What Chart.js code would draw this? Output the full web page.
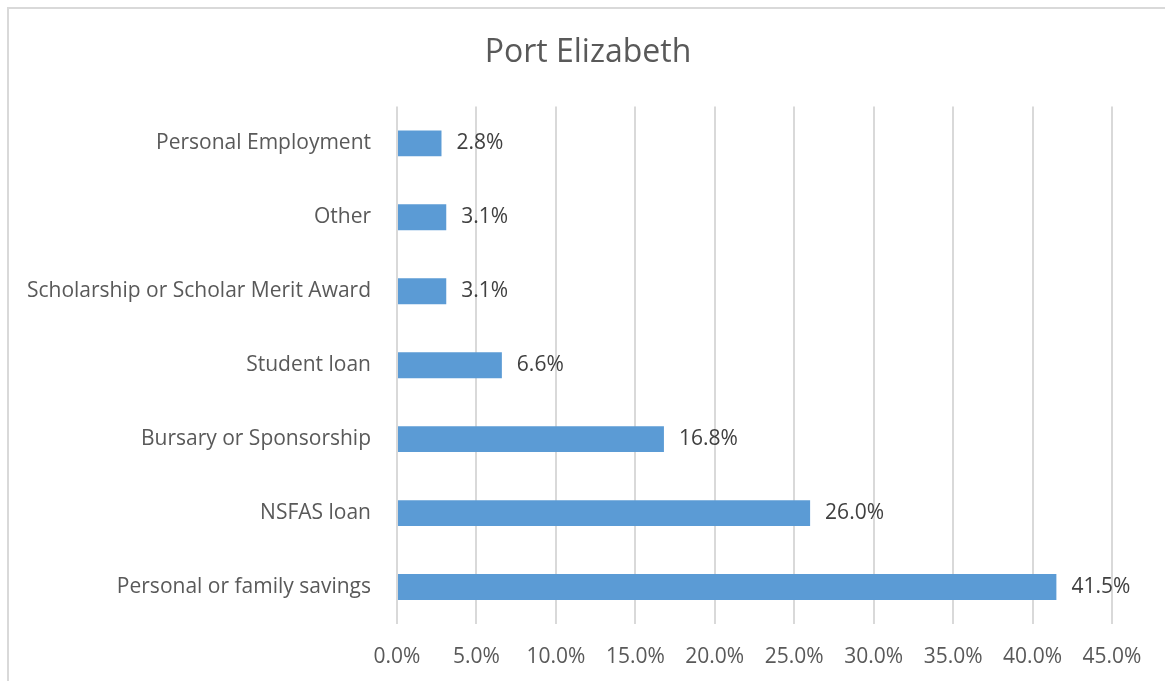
<!DOCTYPE html>
<html>
<head>
<meta charset="utf-8">
<script src="https://cdn.jsdelivr.net/npm/chart.js@4/dist/chart.umd.min.js"></script>
<style>
  html, body { margin: 0; padding: 0; background: #fff; overflow: hidden; }
  #frame { position: absolute; left: 7px; top: 7px; width: 1200px; height: 720px; border: 2px solid #d9d9d9; }
  #wrap { position: absolute; left: 0; top: 0; width: 1165px; height: 681px; }
</style>
</head>
<body>
<div id="frame"></div>
<div id="wrap"><canvas id="chart"></canvas></div>
<script>
// ----------------------------------------------------------------------
const categories = [
    "Personal Employment",
    "Other",
    "Scholarship or Scholar Merit Award",
    "Student loan",
    "Bursary or Sponsorship",
    "NSFAS loan",
    "Personal or family savings"
]
const shares = [2.8, 3.1, 3.1, 6.6, 16.8, 26.0, 41.5]
const axisMax = 45
const axisStep = 5

// ----------------------------------------------------------------------
const FONT = "'Open Sans', Lato, sans-serif"
const GREY = "#595959"

// labels at the end of every bar
const barLabels = {
    id: "barLabels",
    afterDatasetsDraw (chart)
    {
        const ctx = chart.ctx
        const meta = chart.getDatasetMeta(0)
        ctx.save()
        ctx.font = "21px " + FONT
        ctx.fillStyle = "#404040"
        ctx.textBaseline = "middle"
        ctx.textAlign = "left"
        meta.data.forEach((bar, i) => {
            ctx.fillText(shares[i].toFixed(1) + "%", bar.x + 15, bar.y)
        })
        ctx.restore()
    }
}

// centre the title on the whole frame, not just the padded box
const titleCentre = {
    id: "titleCentre",
    afterLayout (chart)
    {
        chart.titleBlock.left = 11
        chart.titleBlock.right = chart.width
    }
}

const config = {
    type: "bar",
    data: {
        labels: categories,
        datasets: [{
            data: shares,
            backgroundColor: "#5b9bd5",
            barPercentage: 0.7,
            categoryPercentage: 0.5
        }]
    },
    options: {
        indexAxis: "y",
        responsive: true,
        maintainAspectRatio: false,
        animation: false,
        layout: { padding: { left: 0, right: 53, top: 0, bottom: 0 } },
        plugins: {
            legend: { display: false },
            tooltip: { enabled: false },
            title: {
                display: true,
                text: "Port Elizabeth",
                color: GREY,
                font: { family: FONT, size: 32, weight: "normal" },
                padding: { top: 34, bottom: 34 }
            }
        },
        scales: {
            x: {
                min: 0,
                max: axisMax,
                grid: { color: "#d9d9d9", lineWidth: 2, drawTicks: false },
                border: { display: false },
                ticks: {
                    stepSize: axisStep,
                    padding: 20,
                    color: GREY,
                    font: { family: FONT, size: 21 },
                    callback: v => v.toFixed(1) + "%"
                },
                afterFit (axis) { axis.height = 57 }
            },
            y: {
                grid: { display: false, drawTicks: false },
                border: { display: false },
                ticks: {
                    padding: 26,
                    color: GREY,
                    font: { family: FONT, size: 21 }
                },
                afterFit (axis) { axis.width = 397 }
            }
        }
    },
    plugins: [barLabels, titleCentre]
}

const chart = new Chart(document.getElementById("chart"), config)
</script>
</body>
</html>
